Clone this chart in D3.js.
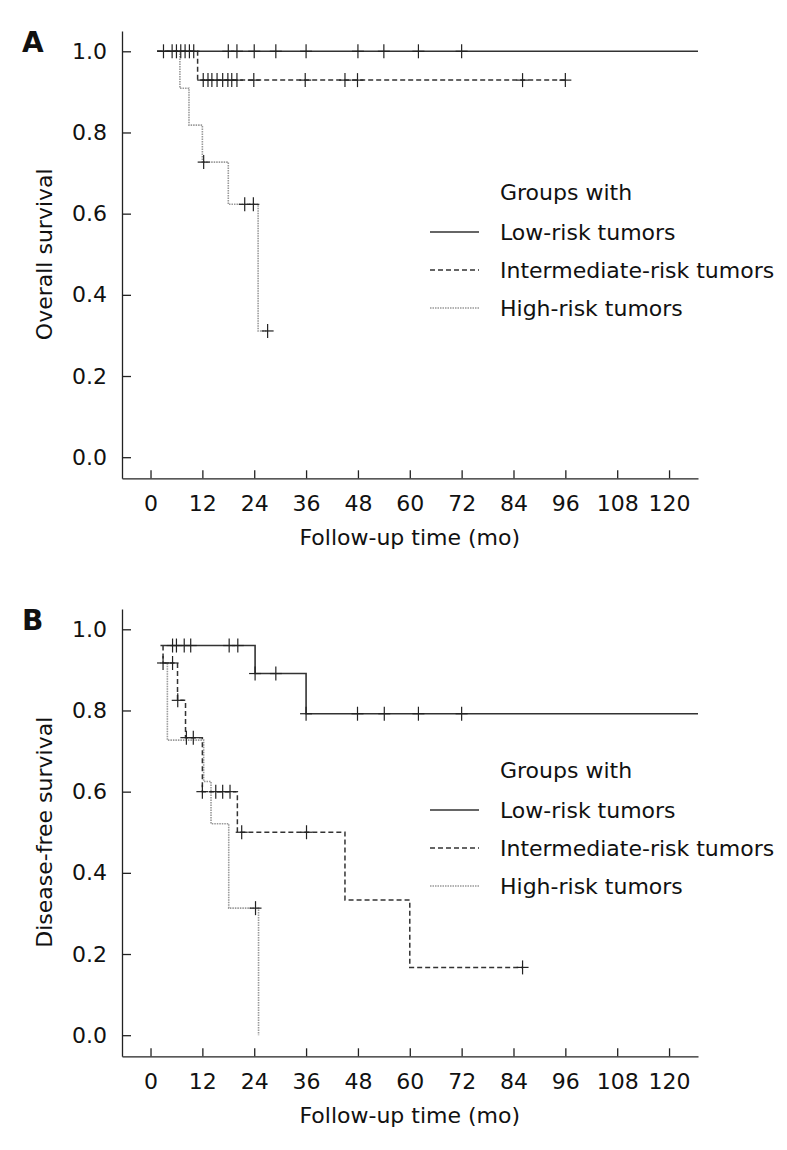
<!DOCTYPE html>
<html>
<head>
<meta charset="utf-8">
<script src="https://cdn.jsdelivr.net/npm/d3@7"></script>
<style>
  body { margin: 0; background: #fff; }
  svg text { font-family: "DejaVu Sans", Verdana, sans-serif; fill: #111; }
</style>
</head>
<body>
<div id="chart"></div>
<script>
// tick labels
const xTicks = [0, 12, 24, 36, 48, 60, 72, 84, 96, 108, 120];
const yTicks = [0, 0.2, 0.4, 0.6, 0.8, 1.0];
const groupNames = ["Low-risk tumors", "Intermediate-risk tumors", "High-risk tumors"];

// Panel A - overall survival (step times / survival values, censor times)
const aLowTimes = [1.5, 126.7];
const aLowSurv = [1.0, 1.0];
const aLowCens = [3, 5, 6, 7, 8, 9, 10, 18, 20, 24, 29, 36, 48, 54, 62, 72];
const aIntTimes = [1.5, 10.9, 96];
const aIntSurv = [1.0, 0.929, 0.929];
const aIntCens = [12.2, 13.3, 14.2, 15.4, 16.7, 17.9, 18.8, 20.0, 23.9, 35.8, 45, 47.9, 86.1, 96];
const aHighTimes = [1.5, 6.8, 8.9, 12.0, 18.0, 24.9, 27.1];
const aHighSurv = [1.0, 0.909, 0.818, 0.727, 0.623, 0.311, 0.311];
const aHighCens = [12.3, 21.8, 23.8, 27.1];

// Panel B - disease-free survival
const bLowTimes = [2.3, 24.2, 36.0, 126.7];
const bLowSurv = [0.96, 0.891, 0.792, 0.792];
const bLowCens = [5.1, 6.0, 7.8, 9.3, 18.2, 20.2, 24.2, 29.0, 36.0, 47.9, 54.1, 62, 72];
const bIntTimes = [2.9, 2.9, 6.25, 8.1, 12.0, 20.1, 45.0, 60.0, 86.1];
const bIntSurv = [0.96, 0.917, 0.825, 0.733, 0.60, 0.50, 0.333, 0.167, 0.167];
const bIntCens = [2.9, 5.1, 6.3, 8.3, 9.9, 12.0, 15.1, 16.7, 18.4, 21.1, 36.1, 86.1];
const bHighTimes = [2.2, 3.9, 12.3, 14.0, 18.1, 25.0];
const bHighSurv = [0.917, 0.727, 0.625, 0.521, 0.313, 0.0];
const bHighCens = [24.3];

const width = 787, height = 1150;
const fs = 22;

const svg = d3.select("#chart").append("svg")
    .attr("width", width)
    .attr("height", height);

const x = d3.scaleLinear().domain([-6.6, 126.7]).range([122, 698]);
const y = d3.scaleLinear().domain([-0.052, 1.05]).range([478.3, 31]);

const styles = [
    { stroke: "#333", dash: null, w: 1.6 },
    { stroke: "#333", dash: "5,3", w: 1.5 },
    { stroke: "#999", dash: "1.5,1", w: 1.6 }
];

function stepPath(times, surv) {
    let d = "M" + x(times[0]) + "," + y(surv[0]);
    for (let i = 1; i < times.length; i++) {
        d += "H" + x(times[i]) + "V" + y(surv[i]);
    }
    return d;
}

function survAt(times, surv, t) {
    let s = surv[0];
    for (let i = 1; i < times.length; i++) {
        if (times[i] <= t) s = surv[i];
    }
    return s;
}

function drawPanel(offsetY, letter, yTitle, curves) {
    const g = svg.append("g").attr("transform", `translate(0, ${offsetY})`);

    g.append("text")
        .attr("x", 22).attr("y", 52)
        .style("font-size", "28px").style("font-weight", "bold")
        .text(letter);

    const xAxis = g.append("g")
        .attr("transform", `translate(0, ${y.range()[0]})`)
        .call(d3.axisBottom(x).tickValues(xTicks).tickSize(-8).tickSizeOuter(0).tickPadding(17));
    const yAxis = g.append("g")
        .attr("transform", `translate(${x.range()[0]}, 0)`)
        .call(d3.axisLeft(y).tickValues(yTicks).tickSize(-9).tickSizeOuter(0).tickPadding(15)
            .tickFormat(d3.format(".1f")));

    [xAxis, yAxis].forEach(a => {
        a.selectAll("path, line").attr("stroke", "#222").attr("stroke-width", 1.3);
        a.selectAll("text").style("font-size", fs + "px").attr("font-family", null);
    });

    g.append("text")
        .attr("x", x(60)).attr("y", 545)
        .attr("text-anchor", "middle")
        .style("font-size", fs + "px")
        .text("Follow-up time (mo)");

    g.append("text")
        .attr("transform", `translate(52, ${y(0.5)}) rotate(-90)`)
        .attr("text-anchor", "middle")
        .style("font-size", fs + "px")
        .text(yTitle);

    // curves, drawn high-risk first so the solid line sits on top
    curves.slice().reverse().forEach(c => {
        const st = styles[c.idx];
        g.append("path")
            .attr("d", stepPath(c.times, c.surv))
            .attr("fill", "none")
            .attr("stroke", st.stroke)
            .attr("stroke-width", st.w)
            .attr("stroke-dasharray", st.dash);
    });

    // censor marks
    curves.forEach(c => {
        c.cens.forEach(t => {
            const cx = x(t), cy = y(survAt(c.times, c.surv, t));
            g.append("line")
                .attr("x1", cx - 6).attr("x2", cx + 6).attr("y1", cy).attr("y2", cy)
                .attr("stroke", "#222").attr("stroke-width", 1.2);
            g.append("line")
                .attr("x1", cx).attr("x2", cx).attr("y1", cy - 7).attr("y2", cy + 7)
                .attr("stroke", "#222").attr("stroke-width", 1.2);
        });
    });

    // legend
    g.append("text").attr("x", 500).attr("y", 200)
        .style("font-size", fs + "px").text("Groups with");
    groupNames.forEach((name, i) => {
        const ly = 232 + i * 38;
        const st = styles[i];
        g.append("line")
            .attr("x1", 430).attr("x2", 479).attr("y1", ly).attr("y2", ly)
            .attr("stroke", st.stroke).attr("stroke-width", st.w)
            .attr("stroke-dasharray", st.dash);
        g.append("text").attr("x", 500).attr("y", ly + 7.5)
            .style("font-size", fs + "px").text(name);
    });
}

drawPanel(0, "A", "Overall survival", [
    { idx: 0, times: aLowTimes, surv: aLowSurv, cens: aLowCens },
    { idx: 1, times: aIntTimes, surv: aIntSurv, cens: aIntCens },
    { idx: 2, times: aHighTimes, surv: aHighSurv, cens: aHighCens }
]);

drawPanel(578, "B", "Disease-free survival", [
    { idx: 0, times: bLowTimes, surv: bLowSurv, cens: bLowCens },
    { idx: 1, times: bIntTimes, surv: bIntSurv, cens: bIntCens },
    { idx: 2, times: bHighTimes, surv: bHighSurv, cens: bHighCens }
]);
</script>
</body>
</html>
